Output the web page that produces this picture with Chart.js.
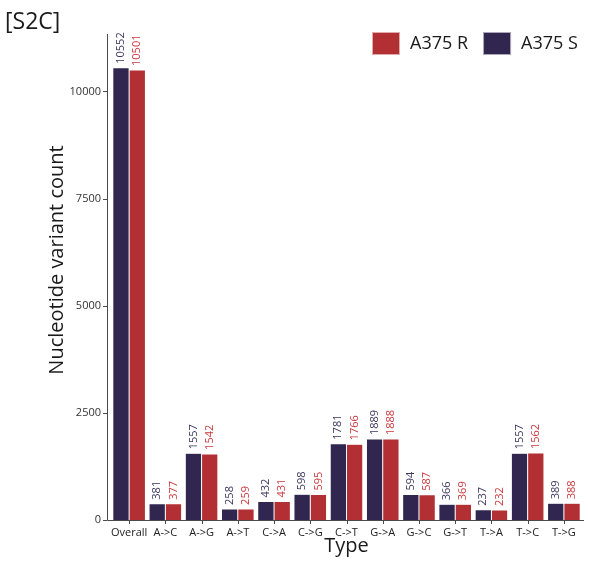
<!DOCTYPE html>
<html>
<head>
<meta charset="utf-8">
<style>
  html, body { margin: 0; padding: 0; background: #ffffff; }
  #chart { display: block; }
</style>
<script src="https://cdn.jsdelivr.net/npm/chart.js@4/dist/chart.umd.min.js"></script>
</head>
<body>
<canvas id="chart" width="589" height="562"></canvas>
<script>
// Substitution types and per-cell-line variant counts
const categories = ['Overall', 'A->C', 'A->G', 'A->T', 'C->A', 'C->G', 'C->T', 'G->A', 'G->C', 'G->T', 'T->A', 'T->C', 'T->G'];
const a375S = [10552, 381, 1557, 258, 432, 598, 1781, 1889, 594, 366, 237, 1557, 389];
const a375R = [10501, 377, 1542, 259, 431, 595, 1766, 1888, 587, 369, 232, 1562, 388];
const yTickValues = [0, 2500, 5000, 7500, 10000];

const FONT = "'Open Sans', 'Noto Sans', sans-serif";
const COLOR_S = '#31264f';
const COLOR_R = '#b22f33';
const LABEL_S = '#3d3560';
const LABEL_R = '#c9383c';
const AXIS = '#4a4a4a';

// Axis lines, tick marks, y title, value labels and legend
const decorations = {
  id: 'decorations',
  afterDatasetsDraw(chart) {
    const ctx = chart.ctx;
    const area = chart.chartArea;
    const xs = chart.scales.x, ys = chart.scales.y;
    const axisX = area.left - 4;
    const axisY = ys.getPixelForValue(0);

    ctx.save();
    ctx.strokeStyle = AXIS;
    ctx.lineWidth = 1;
    ctx.beginPath();
    ctx.moveTo(axisX + 0.5, area.top);
    ctx.lineTo(axisX + 0.5, axisY + 0.5);
    ctx.lineTo(area.right + 2, axisY + 0.5);
    ys.ticks.forEach(t => {
      const py = Math.round(ys.getPixelForValue(t.value)) + 0.5;
      ctx.moveTo(axisX - 4, py);
      ctx.lineTo(axisX, py);
    });
    categories.forEach((c, i) => {
      const px = Math.round(xs.getPixelForValue(i)) + 0.5;
      ctx.moveTo(px, axisY);
      ctx.lineTo(px, axisY + 4);
    });
    ctx.stroke();

    // value labels above each bar
    ctx.font = '11px ' + FONT;
    ctx.textAlign = 'left';
    ctx.textBaseline = 'middle';
    chart.data.datasets.forEach((ds, di) => {
      const meta = chart.getDatasetMeta(di);
      meta.data.forEach((bar, i) => {
        ctx.save();
        ctx.translate(bar.x, bar.y - 4);
        ctx.rotate(-Math.PI / 2);
        ctx.fillStyle = ds.labelColor;
        ctx.fillText(String(ds.data[i]), 0, 0);
        ctx.restore();
      });
    });

    // y axis title
    ctx.save();
    ctx.translate(57, 260);
    ctx.rotate(-Math.PI / 2);
    ctx.font = '20px ' + FONT;
    ctx.fillStyle = '#1a1a1a';
    ctx.textAlign = 'center';
    ctx.textBaseline = 'middle';
    ctx.fillText('Nucleotide variant count', 0, 0);
    ctx.restore();

    // legend: red series first, then navy
    const order = [1, 0];
    let lx = 372;
    ctx.font = '18px ' + FONT;
    ctx.textBaseline = 'middle';
    ctx.textAlign = 'left';
    order.forEach(di => {
      const ds = chart.data.datasets[di];
      ctx.fillStyle = ds.backgroundColor;
      ctx.fillRect(lx, 32, 28, 23);
      ctx.strokeStyle = 'rgba(255,255,255,0.6)';
      ctx.strokeRect(lx + 0.5, 32.5, 27, 22);
      ctx.fillStyle = '#1a1a1a';
      ctx.fillText(ds.label, lx + 38, 44);
      lx += 38 + ctx.measureText(ds.label).width + 15;
    });
    ctx.restore();
  }
};

new Chart(document.getElementById('chart'), {
  type: 'bar',
  data: {
    labels: categories,
    datasets: [
      { label: 'A375 S', data: a375S, backgroundColor: COLOR_S, labelColor: LABEL_S,
        borderColor: 'rgba(255,255,255,0.5)', borderWidth: { left: 0.5, right: 0.5, top: 0.5 } },
      { label: 'A375 R', data: a375R, backgroundColor: COLOR_R, labelColor: LABEL_R,
        borderColor: 'rgba(255,255,255,0.5)', borderWidth: { left: 0.5, right: 0.5, top: 0.5 } }
    ]
  },
  options: {
    responsive: false,
    animation: false,
    categoryPercentage: 0.9,
    barPercentage: 1.0,
    layout: { padding: { left: 5, right: 7, top: 0, bottom: 0 } },
    plugins: {
      legend: { display: false },
      tooltip: { enabled: false },
      title: {
        display: true,
        text: '[S2C]',
        align: 'start',
        color: '#1a1a1a',
        font: { family: FONT, size: 23, weight: 'normal', lineHeight: 1.0 },
        padding: { top: 11, bottom: 0 }
      }
    },
    scales: {
      x: {
        grid: { display: false, drawTicks: false },
        border: { display: false },
        ticks: { color: '#222', font: { family: FONT, size: 11 }, padding: 6, maxRotation: 0, autoSkip: false },
        title: { display: true, text: 'Type', color: '#1a1a1a', font: { family: FONT, size: 20 }, padding: { top: 0, bottom: 4 } },
        afterFit: s => { s.height = 42; }
      },
      y: {
        min: 0,
        max: 11340,
        grid: { display: false, drawTicks: false },
        border: { display: false },
        ticks: {
          color: '#333', font: { family: FONT, size: 11 }, padding: 10, includeBounds: false,
          callback: v => String(v)
        },
        afterBuildTicks: s => { s.ticks = yTickValues.map(v => ({ value: v })); },
        afterFit: s => { s.width = 106; }
      }
    }
  },
  plugins: [decorations]
});
</script>
</body>
</html>
